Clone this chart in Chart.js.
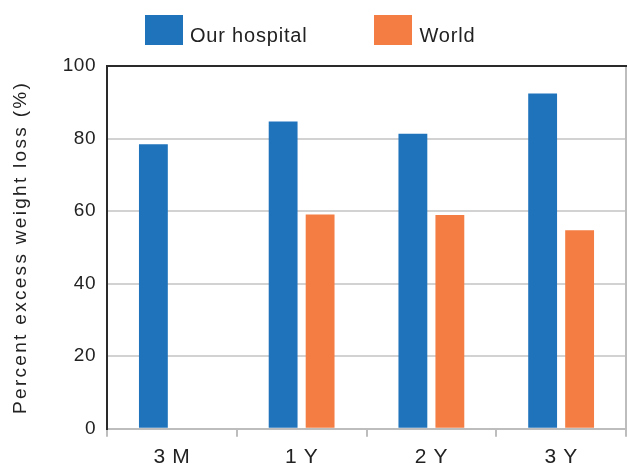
<!DOCTYPE html>
<html>
<head>
<meta charset="utf-8">
<script src="https://cdn.jsdelivr.net/npm/chart.js@4"></script>
<style>
  html, body { margin: 0; padding: 0; background: #ffffff; }
  #wrap { position: relative; width: 627px; height: 468px; overflow: hidden; }
  #chart { position: absolute; left: 0; top: 0; }
  #legend {
    position: absolute; left: 145px; top: 15px;
    display: flex; gap: 67px;
    font-family: 'Liberation Sans', Arial, Helvetica, sans-serif;
    font-size: 20px; letter-spacing: 0.8px; color: #222222;
  }
  #legend .item { display: flex; align-items: flex-start; }
  #legend .swatch { width: 38px; height: 30px; margin-right: 7px; box-sizing: border-box; }
  #legend .name { line-height: 30px; position: relative; top: 5px; white-space: nowrap; }
</style>
</head>
<body>
<div id="wrap">
  <canvas id="chart" width="627" height="468"></canvas>
  <div id="legend"></div>
</div>
<script>
// Follow-up intervals after surgery
const periods = ['3 M', '1 Y', '2 Y', '3 Y'];
// Percent excess weight loss at each interval
const ourHospital = [78.4, 84.7, 81.3, 92.4];
const world = [null, 59.1, 58.9, 54.7];
// Y axis tick values
const yTicks = [0, 20, 40, 60, 80, 100];
const yTitle = 'Percent excess weight loss (%)';

const FONT = "'Liberation Sans', Arial, Helvetica, sans-serif";
const TEXT = '#222222';

// Slight tracking on all canvas text, wider on the axis title
const tracking = {
  id: 'tracking',
  beforeInit(chart) {
    const ctx = chart.ctx;
    const fill = ctx.fillText;
    ctx.fillText = function (text) {
      if (text === yTitle) {
        const prev = ctx.letterSpacing;
        ctx.letterSpacing = '2.3px';
        fill.apply(ctx, arguments);
        ctx.letterSpacing = prev;
      } else {
        fill.apply(ctx, arguments);
      }
    };
  },
  beforeUpdate(chart) { chart.ctx.letterSpacing = '0.5px'; },
  beforeDraw(chart) { chart.ctx.letterSpacing = '0.5px'; }
};

// Frame lines on top and right of the plotting area
const frame = {
  id: 'frame',
  afterDatasetsDraw(chart) {
    const { ctx, chartArea: a } = chart;
    ctx.save();
    ctx.strokeStyle = '#bdbdbd';
    ctx.lineWidth = 2;
    ctx.beginPath();
    ctx.moveTo(a.right, a.top);
    ctx.lineTo(a.right, a.bottom);
    ctx.stroke();
    ctx.strokeStyle = '#2a2a2a';
    ctx.beginPath();
    ctx.moveTo(a.left - 1, a.top);
    ctx.lineTo(a.right + 1, a.top);
    ctx.stroke();
    ctx.restore();
  }
};

// HTML legend built from the chart's datasets
const htmlLegend = {
  id: 'htmlLegend',
  afterUpdate(chart) {
    const box = document.getElementById('legend');
    box.innerHTML = '';
    chart.data.datasets.forEach(ds => {
      const item = document.createElement('div');
      item.className = 'item';
      const sw = document.createElement('span');
      sw.className = 'swatch';
      sw.style.background = ds.backgroundColor;
      const name = document.createElement('span');
      name.className = 'name';
      name.textContent = ds.label;
      item.appendChild(sw);
      item.appendChild(name);
      box.appendChild(item);
    });
  }
};

new Chart(document.getElementById('chart'), {
  type: 'bar',
  data: {
    labels: periods,
    datasets: [
      { label: 'Our hospital', data: ourHospital, backgroundColor: '#1f73bb', borderWidth: 0 },
      { label: 'World', data: world, backgroundColor: '#f47d43', borderWidth: 0 }
    ]
  },
  options: {
    responsive: false,
    animation: false,
    devicePixelRatio: 1,
    layout: { padding: { left: 5, right: 1, top: 66, bottom: -10 } },
    datasets: {
      bar: { categoryPercentage: 0.57, barPercentage: 0.78 }
    },
    plugins: {
      legend: { display: false },
      tooltip: { enabled: false }
    },
    scales: {
      x: {
        offset: true,
        grid: {
          display: true,
          drawOnChartArea: false,
          drawTicks: true,
          tickLength: 8,
          color: '#bdbdbd',
          lineWidth: 2
        },
        border: { display: true, color: '#bdbdbd', width: 2 },
        ticks: {
          color: TEXT,
          padding: 8,
          font: { family: FONT, size: 21 }
        }
      },
      y: {
        min: 0,
        max: 100,
        afterBuildTicks(axis) {
          axis.ticks = yTicks.map(v => ({ value: v }));
        },
        grid: { color: '#d2d2d2', lineWidth: 2, drawTicks: false },
        border: { display: true, color: '#2a2a2a', width: 2 },
        ticks: {
          color: TEXT,
          padding: 11,
          font: { family: FONT, size: 19 }
        },
        title: {
          display: true,
          text: yTitle,
          color: TEXT,
          padding: { top: 4, bottom: 20 },
          font: { family: FONT, size: 19 }
        }
      }
    }
  },
  plugins: [tracking, frame, htmlLegend]
});
</script>
</body>
</html>
